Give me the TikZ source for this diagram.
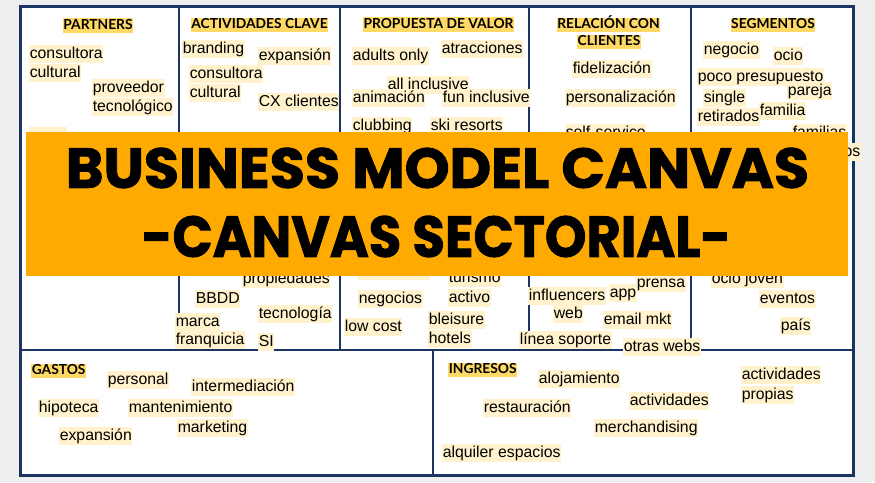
\documentclass[tikz,border=0pt]{standalone}
\usepackage{fontspec}
\usepackage{graphicx}
\newfontfamily\itemfont{Liberation Sans}
\newfontfamily\hdrfont{Lato}
\newfontfamily\bannerfont[BoldFeatures={FakeBold=1.6}]{Poppins}
\definecolor{bg}{RGB}{238,238,238}
\definecolor{navy}{RGB}{28,52,97}
\definecolor{cream}{RGB}{255,242,204}
\definecolor{gold}{RGB}{255,217,102}
\definecolor{banner}{RGB}{255,170,0}
\tikzset{
  item/.style={fill=cream, inner xsep=0.6pt, inner ysep=0pt, text height=13pt, text depth=4.2pt,
    font=\itemfont\fontsize{15.8}{18}\selectfont, anchor=west},
  hdr/.style={fill=gold, inner xsep=0.6pt, inner ysep=0pt, text height=11pt, text depth=3.4pt,
    font=\hdrfont\bfseries\fontsize{13.8}{15}\selectfont},
  divider/.style={draw=navy, line width=2pt},
  peek/.style={fill=cream, draw=none}
}
\begin{document}
\begin{tikzpicture}[x=1pt,y=-1pt]
\path[use as bounding box, fill=bg] (0,0) rectangle (875,482);
% canvas
\path[fill=white] (20,6) rectangle (853,475);
\draw[divider] (179,6) -- (179,350);
\draw[divider] (340,6) -- (340,350);
\draw[divider] (529,6) -- (529,350);
\draw[divider] (691,6) -- (691,350);
\draw[divider] (20,350) -- (853,350);
\draw[divider] (433,350) -- (433,475);
\draw[navy, line width=3pt] (20,6) rectangle (853,475);
% headers
\node[hdr] (hP) at (98,25.5) {PARTNERS};
\node[hdr] (hA) at (259.5,25) {ACTIVIDADES CLAVE};
\node[hdr] (hV) at (438.5,24.5) {PROPUESTA DE VALOR};
\node[hdr] (hR1) at (608.5,25) {RELACIÓN CON};
\node[hdr] (hR2) at (609,42) {CLIENTES};
\node[hdr] (hS) at (773,25) {SEGMENTOS};
\node[hdr, anchor=west] (hG) at (31,371) {GASTOS};
\node[hdr, anchor=west] (hI) at (448,370) {INGRESOS};
% partners
\node[item] (p1a) at (29,54) {consultora};
\node[item] (p1b) at (29,73) {cultural};
\node[item] (p2a) at (92,88) {proveedor};
\node[item] (p2b) at (92,107) {tecnológico};
\path[peek] (29,127) rectangle (67,145);
% actividades
\node[item] (a1) at (182,49) {branding};
\node[item] (a2) at (258,56) {expansión};
\node[item] (a3a) at (189,74) {consultora};
\node[item] (a3b) at (189,93) {cultural};
\node[item] (a4) at (258,102) {CX clientes};
\node[item] (a5) at (242,279) {propiedades};
\node[item] (a6) at (195,299) {BBDD};
\node[item] (a7) at (258,314) {tecnología};
\node[item] (a8a) at (175,322) {marca};
\node[item] (a8b) at (175,340) {franquicia};
\node[item] (a9) at (258,342) {SI};
% propuesta de valor
\node[item] (v1) at (352,56) {adults only};
\node[item] (v2) at (441,49) {atracciones};
\node[item] (v3) at (387,85) {all inclusive};
\node[item] (v4) at (352,98) {animación};
\node[item] (v5) at (442,98) {fun inclusive};
\node[item] (v6) at (352,126) {clubbing};
\node[item] (v7) at (430,126) {ski resorts};
\path[peek] (358,262) rectangle (430,280);
\node[item] (v9) at (448,278) {turismo};
\node[item] (v10) at (448,298) {activo};
\node[item] (v11) at (358,299) {negocios};
\node[item] (v12) at (344,327) {low cost};
\node[item] (v13a) at (428,320) {bleisure};
\node[item] (v13b) at (428,339) {hotels};
% relacion
\node[item] (r1) at (572,69) {fidelización};
\node[item] (r2) at (565,98) {personalización};
\node[item] (r3) at (565,133) {self-service};
\node[item] (r4) at (528,296) {influencers};
\node[item] (r5) at (553,314) {web};
\node[item] (r6) at (609,293) {app};
\node[item] (r7) at (636,283) {prensa};
\node[item] (r8) at (603,320) {email mkt};
\node[item] (r9) at (519,340) {línea soporte};
\node[item] (r10) at (623,347) {otras webs};
% segmentos
\node[item] (s1) at (703,50) {negocio};
\node[item] (s2) at (773,56) {ocio};
\node[item] (s3) at (697,77) {poco presupuesto};
\node[item] (s4) at (787,91) {pareja};
\node[item] (s5) at (703,98) {single};
\node[item] (s7) at (697,117) {retirados};
\node[item] (s6) at (759,111) {familia};
\node[item] (s8) at (792,133) {familias};
\node[item, anchor=east] (s9) at (861,152) {grupos};
\node[item] (s10) at (711,279) {ocio joven};
\node[item] (s11) at (759,299) {eventos};
\node[item] (s12) at (780,326) {país};
% gastos
\node[item] (g1) at (107,380) {personal};
\node[item] (g2) at (191,387) {intermediación};
\node[item] (g3) at (38,408) {hipoteca};
\node[item] (g4) at (128,408) {mantenimiento};
\node[item] (g5) at (59,436) {expansión};
\node[item] (g6) at (177,428) {marketing};
% ingresos
\node[item] (i1) at (538,379) {alojamiento};
\node[item] (i2) at (483,408) {restauración};
\node[item] (i3) at (629,401) {actividades};
\node[item] (i4a) at (741,375) {actividades};
\node[item] (i4b) at (741,395) {propias};
\node[item] (i5) at (594,428) {merchandising};
\node[item] (i6) at (442,453) {alquiler espacios};
% banner
\node[fill=banner, inner sep=0, minimum width=822pt, minimum height=144pt] (band) at (437,204) {};
\node[inner sep=0] (t1) at (437.5,168) {\resizebox{743pt}{40pt}{\bannerfont\bfseries BUSINESS MODEL CANVAS}};
\node[inner sep=0] (t2) at (436.5,236.5) {\resizebox{589pt}{41pt}{\bannerfont\bfseries -CANVAS SECTORIAL-}};
\end{tikzpicture}
\end{document}
